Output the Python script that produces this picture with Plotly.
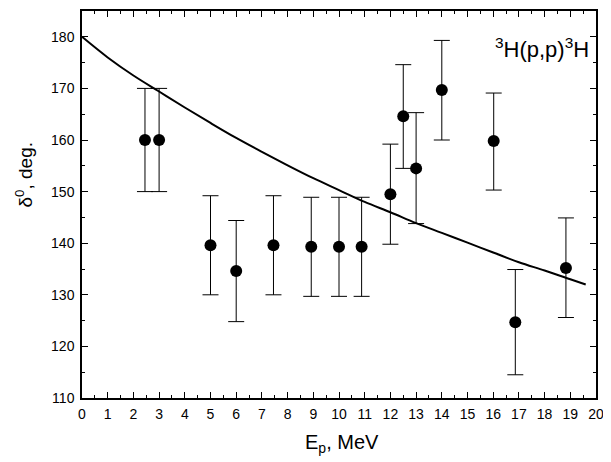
import plotly.graph_objects as go

# Experimental phase shifts
energy = [2.45, 3.0, 5.0, 6.0, 7.45, 8.92, 10.0, 10.88, 12.0, 12.5, 13.0, 14.0, 16.02, 16.86, 18.83]
delta = [160.0, 160.0, 139.6, 134.6, 139.6, 139.3, 139.3, 139.3, 149.5, 164.6, 154.5, 169.7, 159.8, 124.7, 135.2]
err_plus = [10.0, 10.0, 9.6, 9.8, 9.6, 9.6, 9.6, 9.6, 9.7, 10.0, 10.8, 9.6, 9.3, 10.2, 9.7]
err_minus = [10.0, 10.0, 9.6, 9.8, 9.6, 9.6, 9.6, 9.6, 9.7, 10.1, 10.7, 9.7, 9.5, 10.2, 9.6]

# Calculated curve
curve_e = [0, 1, 2, 3, 4, 5, 6, 7, 8, 9, 10, 11, 12, 13, 14, 15, 16, 17, 18, 19, 19.6]
curve_d = [180.0, 176.0, 172.5, 169.4, 166.3, 163.3, 160.4, 157.7, 155.1, 152.6, 150.3,
           148.0, 146.0, 143.9, 142.0, 140.1, 138.2, 136.3, 134.7, 133.0, 132.0]

x_ticks = list(range(0, 21))
y_ticks = [110, 120, 130, 140, 150, 160, 170, 180]

fig = go.Figure()
fig.add_trace(go.Scatter(
    x=curve_e, y=curve_d, mode="lines", line=dict(color="black", width=2, shape="spline"),
    showlegend=False, hoverinfo="skip"))
fig.add_trace(go.Scatter(
    x=energy, y=delta, mode="markers",
    marker=dict(color="black", size=12, symbol="circle"),
    error_y=dict(type="data", symmetric=False, array=err_plus, arrayminus=err_minus,
                 color="black", thickness=1, width=8),
    showlegend=False))

font = "Liberation Sans, Arial, sans-serif"
# page body has an 8px default margin, so the figure is sized to fit the 611x462 window
fig.update_layout(
    width=603, height=454,
    margin=dict(l=74, r=15, t=3, b=64),
    paper_bgcolor="white", plot_bgcolor="white",
    font=dict(family=font, color="black", size=14),
    annotations=[
        dict(text="<sup>3</sup>H(p,p)<sup>3</sup>H", xref="paper", yref="y",
             x=0.99, y=177.9, xanchor="right", yanchor="middle", showarrow=False,
             font=dict(size=22, family=font, color="black")),
        dict(text="E<sub>p</sub>, MeV", xref="paper", yref="paper",
             x=0.506, y=-0.118, xanchor="center", yanchor="middle", showarrow=False,
             font=dict(size=20, family=font, color="black")),
        dict(text="δ<sup>0</sup>, deg.", xref="paper", yref="y", textangle=-90,
             x=-0.113, y=153.3, xanchor="center", yanchor="middle", showarrow=False,
             font=dict(size=19, family=font, color="black")),
    ],
)
fig.update_xaxes(
    range=[0, 20], tickvals=x_ticks, ticktext=[str(v) for v in x_ticks],
    ticks="inside", ticklen=6, tickwidth=1, tickcolor="black",
    minor=dict(dtick=0.5, ticks="inside", ticklen=3, tickwidth=1, tickcolor="black"),
    showline=True, linecolor="black", linewidth=1.5, mirror="allticks",
    showgrid=False, zeroline=False, automargin=False, ticklabeloverflow="allow",
    tickfont=dict(size=14), ticklabelstandoff=2)
fig.update_yaxes(
    range=[110, 185], tickvals=y_ticks, ticktext=[str(v) for v in y_ticks],
    ticks="inside", ticklen=6, tickwidth=1, tickcolor="black",
    minor=dict(dtick=5, ticks="inside", ticklen=3, tickwidth=1, tickcolor="black"),
    showline=True, linecolor="black", linewidth=1.5, mirror="allticks",
    showgrid=False, zeroline=False, automargin=False, ticklabeloverflow="allow",
    tickfont=dict(size=14), ticklabelstandoff=3)

fig.write_html("out.html")
